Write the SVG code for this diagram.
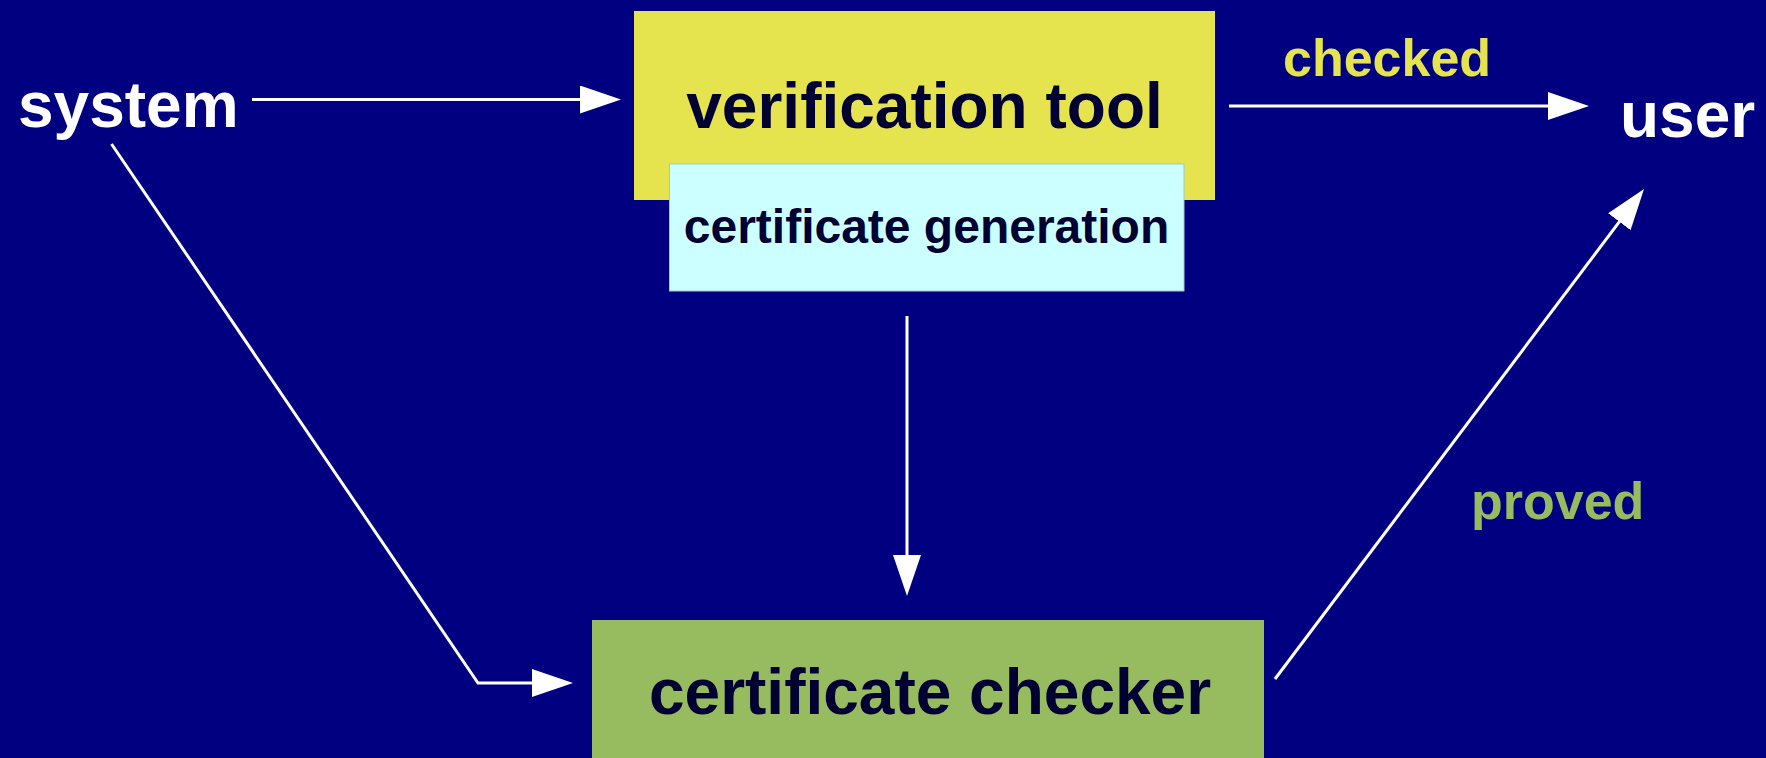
<svg xmlns="http://www.w3.org/2000/svg" width="1766" height="758" viewBox="0 0 1766 758">
  <style>
    .lbl { font-family: "Liberation Sans", Arial, Helvetica, sans-serif; font-weight: bold; }
    .dark { fill: #000033; }
    .white { fill: #ffffff; }
    .conn { fill: none; stroke: #ffffff; stroke-width: 3; }
  </style>
  <defs>
    <marker id="arrow" markerUnits="userSpaceOnUse" markerWidth="42" markerHeight="30" refX="33" refY="14" orient="auto">
      <path d="M0,0 L41,14 L0,28 Z" fill="#ffffff"/>
    </marker>
  </defs>

  <!-- background -->
  <rect x="0" y="0" width="1766" height="758" fill="#000080"/>

  <!-- external actors -->
  <g id="system">
    <text class="lbl white" x="18" y="127" font-size="64">system</text>
  </g>
  <g id="user">
    <text class="lbl white" x="1620" y="137" font-size="64">user</text>
  </g>

  <!-- verification tool with certificate generation sub-box -->
  <g id="verification-tool">
    <rect x="634" y="11" width="581" height="189" fill="#e6e44e"/>
    <text class="lbl dark" x="924.5" y="128" font-size="64" text-anchor="middle">verification tool</text>
  </g>
  <g id="certificate-generation">
    <rect x="669.5" y="164" width="514.5" height="127" fill="#ccffff" stroke="#9fc8d0" stroke-width="1"/>
    <text class="lbl dark" x="926.5" y="243" font-size="48" text-anchor="middle">certificate generation</text>
  </g>

  <!-- certificate checker -->
  <g id="certificate-checker">
    <rect x="592" y="620" width="672" height="150" fill="#96bc5f"/>
    <text class="lbl dark" x="930" y="714" font-size="64" text-anchor="middle">certificate checker</text>
  </g>

  <!-- edge labels -->
  <g id="label-checked">
    <text class="lbl" x="1283" y="76" font-size="52" fill="#e6e44e">checked</text>
  </g>
  <g id="label-proved">
    <text class="lbl" x="1471" y="519" font-size="52" fill="#96bc5f">proved</text>
  </g>

  <!-- connectors -->
  <g id="connectors">
    <line class="conn" x1="252" y1="99.5" x2="613" y2="99.5" marker-end="url(#arrow)"/>
    <line class="conn" x1="1229" y1="106" x2="1581" y2="106" marker-end="url(#arrow)"/>
    <line class="conn" x1="907" y1="316" x2="907" y2="588" marker-end="url(#arrow)"/>
    <polyline class="conn" points="111.5,144 478,683 565,683" marker-end="url(#arrow)"/>
    <line class="conn" x1="1275" y1="679" x2="1639.2" y2="195.4" marker-end="url(#arrow)"/>
  </g>
</svg>
